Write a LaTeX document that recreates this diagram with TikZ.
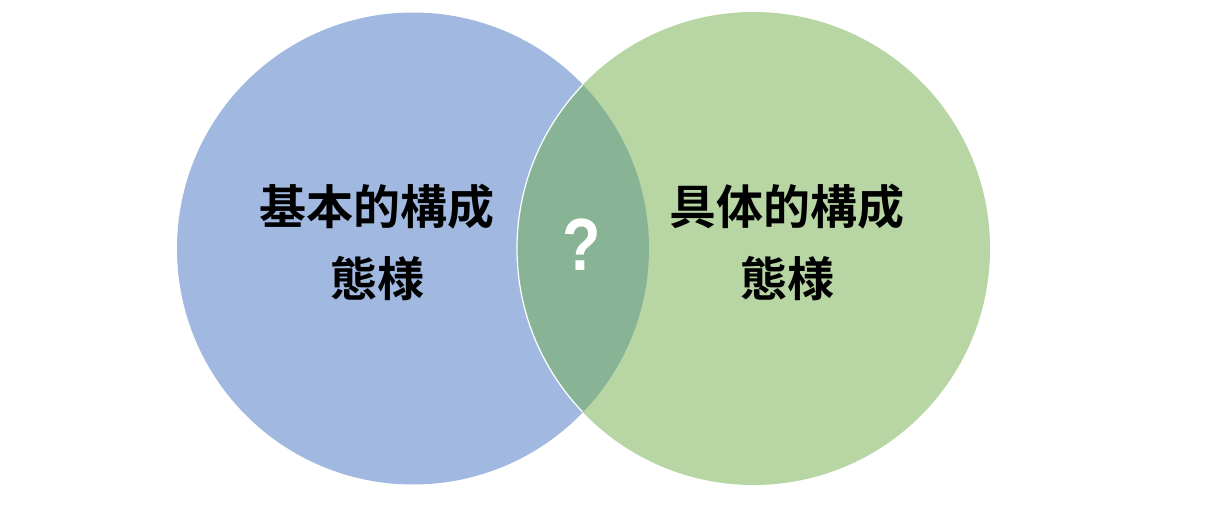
\documentclass[tikz,border=0pt]{standalone}
\usepackage{graphicx}
\usepackage{fontspec}
\newfontfamily\jpfont{Noto Sans CJK JP Bold}
\setmainfont{Liberation Sans}
\definecolor{cblue}{RGB}{161,185,224}
\definecolor{cgreen}{RGB}{184,214,164}
\definecolor{cover}{RGB}{136,179,148}
\begin{document}
\begin{tikzpicture}[x=1pt,y=-1pt,
  lbl/.style={font=\jpfont\fontsize{47}{72}\selectfont, align=center, text=black, inner sep=0pt},
  q/.style={font=\bfseries\fontsize{74}{74}\selectfont, text=white, inner sep=0pt}]
\useasboundingbox (0,0) rectangle (1209,505);
\fill[white] (0,0) rectangle (1209,505);
\coordinate (cl) at (413,248.5);
\coordinate (cr) at (753.5,248.5);
\fill[cblue] (cl) circle[radius=236];
\fill[cgreen] (cr) circle[radius=236.5];
\begin{scope}
  \clip (cl) circle[radius=236];
  \fill[cover] (cr) circle[radius=236.5];
  \draw[white, line width=1.2pt] (cr) circle[radius=236.5];
\end{scope}
\node[lbl] (left) at (377,242) {基本的構成\\態様};
\node[lbl] (right) at (787,242) {具体的構成\\態様};
\node[q] (qm) at (582,245) {\scalebox{0.85}[1]{?}};
\end{tikzpicture}
\end{document}
